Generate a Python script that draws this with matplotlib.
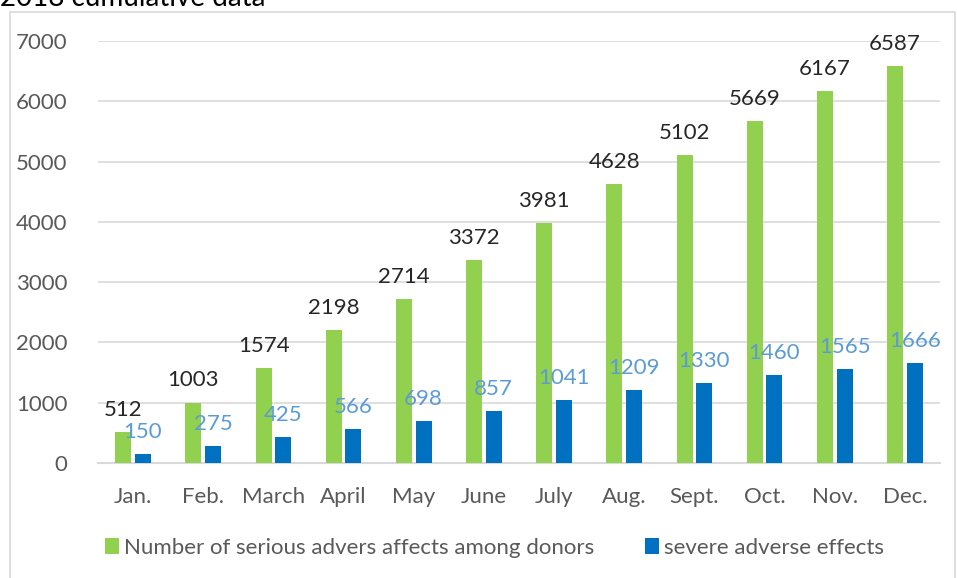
import matplotlib.pyplot as plt
from matplotlib.patches import Rectangle
import numpy as np

months = ["Jan.", "Feb.", "March", "April", "May", "June", "July",
          "Aug.", "Sept.", "Oct.", "Nov.", "Dec."]
serious = [512, 1003, 1574, 2198, 2714, 3372, 3981, 4628, 5102, 5669, 6167, 6587]
severe = [150, 275, 425, 566, 698, 857, 1041, 1209, 1330, 1460, 1565, 1666]

plt.rcParams['font.family'] = ['Lato', 'DejaVu Sans']
fs = 16

fig = plt.figure(figsize=(9.57, 5.78), dpi=100)

# chart frame
fig.patches.append(Rectangle((10 / 957, -0.05), 945 / 957, 1.05 - 12 / 578,
                             transform=fig.transFigure, fill=False,
                             edgecolor='#D9D9D9', linewidth=1.2))
# title, cut off at the top
fig.text(0.0, 1 - 6 / 578, "2018 cumulative data", fontsize=20,
         color='#000000', ha='left', va='baseline')

ax = fig.add_axes([98 / 957, 1 - 463 / 578, 842 / 957, 422 / 578])
x = np.arange(len(months))
w = 0.23
off = 0.14
ax.bar(x - off, serious, w, color='#92D050',
       label='Number of serious advers affects among donors', zorder=3)
ax.bar(x + off, severe, w, color='#0070C0',
       label='severe adverse effects', zorder=3)

for xi, v in zip(x, serious):
    ax.text(xi - off, v + 200, str(v), ha='center', va='bottom',
            fontsize=fs, color='#262626', zorder=4)
for xi, v in zip(x, severe):
    ax.text(xi + off, v + 200, str(v), ha='center', va='bottom',
            fontsize=fs, color='#5B9BD5', zorder=4)

ax.set_xlim(-0.5, len(months) - 0.5)
ax.set_ylim(0, 7000)
ax.set_yticks(range(0, 7001, 1000))
ax.set_xticks(x)
ax.set_xticklabels(months)
ax.tick_params(axis='both', length=0, labelsize=fs, colors='#595959')
ax.tick_params(axis='x', pad=17)
ax.tick_params(axis='y', pad=22)
ax.grid(axis='y', color='#D9D9D9', linewidth=1.2, zorder=0)
for s in ['top', 'right', 'left']:
    ax.spines[s].set_visible(False)
ax.spines['bottom'].set_color('#D9D9D9')
ax.spines['bottom'].set_linewidth(1.5)

leg = fig.legend(loc='center', bbox_to_anchor=(0.517, 1 - 548 / 578), ncol=2,
                 frameon=False, fontsize=fs, handlelength=0.6,
                 handleheight=0.7, handletextpad=0.25, columnspacing=2.3)
for t in leg.get_texts():
    t.set_color('#595959')

fig.savefig('out.png', dpi=100)
